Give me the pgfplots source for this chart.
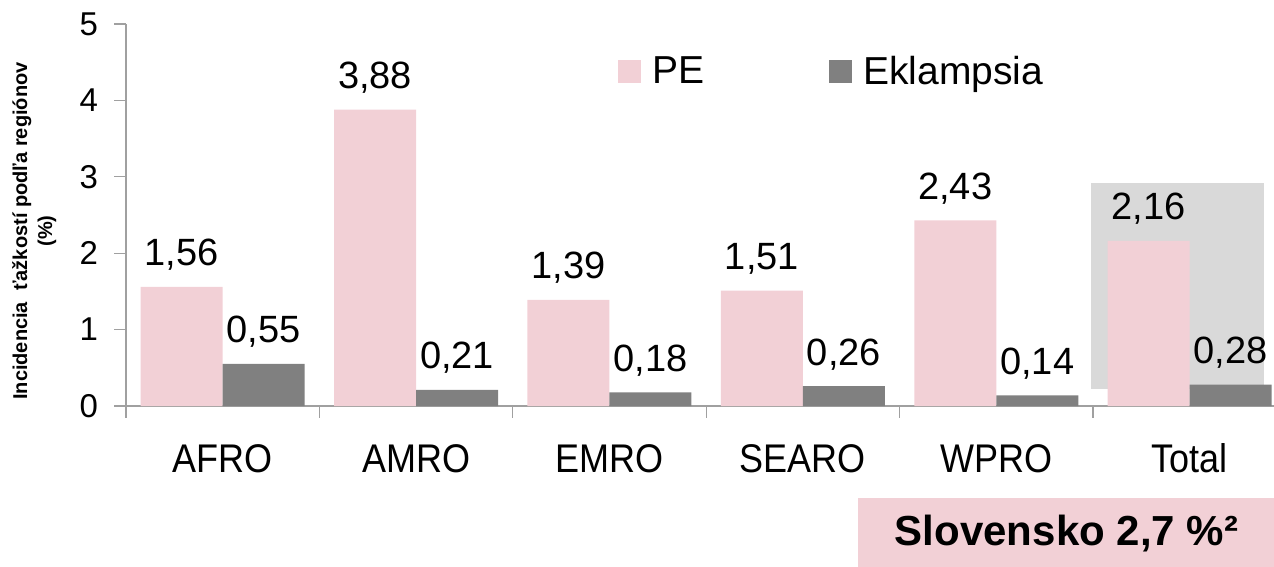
\documentclass[border=0pt]{standalone}
\usepackage{pgfplots}
\pgfplotsset{compat=1.18}
\usepackage{fontspec}
\setmainfont{Liberation Sans}
\newfontfamily\catfont[FakeStretch=0.9]{Liberation Sans}
\definecolor{pebar}{RGB}{242,208,214}
\definecolor{ekbar}{RGB}{128,128,128}
\definecolor{bggray}{RGB}{217,217,217}
\definecolor{axgray}{RGB}{160,160,160}
\begin{document}
\begin{tikzpicture}
\begin{axis}[
 scale only axis, width=1148pt, height=382pt,
 xmin=-0.5, xmax=5.436, ymin=0, ymax=5,
 axis lines*=left,
 axis line style={axgray, line width=1.3pt},
 tick style={axgray, line width=1.3pt},
 tick align=outside, major tick length=11.5pt,
 xtick={-0.5,0.5,1.5,2.5,3.5,4.5},
 xticklabels={AFRO,AMRO,EMRO,SEARO,WPRO,Total},
 xticklabel style={font=\catfont\fontsize{40}{48}\selectfont, text height=29pt, xshift=96.7pt, yshift=-22pt},
 ytick={0,1,2,3,4,5},
 yticklabels={0,1,2,3,4,5},
 yticklabel style={font=\fontsize{33}{40}\selectfont, xshift=-13pt},
 /pgf/number format/assume math mode=true,
 ylabel={Incidencia\ \ ťažkostí podľa regiónov\\(\%)},
 ylabel style={font=\bfseries\fontsize{20}{25}\selectfont, align=center, at={(axis description cs:-0.0800,0.458)}, anchor=center},
 ybar, bar width=0.424,
 nodes near coords={\pgfmathprintnumber[use comma,fixed,fixed zerofill,precision=2,assume math mode=true]{\pgfplotspointmeta}},
 nodes near coords style={font=\fontsize{38}{45}\selectfont, inner sep=0pt, yshift=16pt, black},
 legend style={at={(axis description cs:0.4286,0.916)}, anchor=north west, draw=none, fill=none, inner sep=0pt,
   font=\fontsize{39}{47}\selectfont, legend columns=2,
   /tikz/every even column/.append style={column sep=125pt},
   /tikz/every odd column/.append style={column sep=11pt},
   nodes={inner sep=0pt}},
 legend image code/.code={\fill[#1] (0pt,-12pt) rectangle (23pt,11pt);},
]
\fill[bggray] (axis cs:4.488,0.22) rectangle (axis cs:5.383,2.92);
\addplot[fill=pebar, draw=none, bar shift=-0.212] coordinates {(0,1.56) (1,3.88) (2,1.39) (3,1.51) (4,2.43) (5,2.16)};
\addplot[fill=ekbar, draw=none, bar shift=0.212] coordinates {(0,0.55) (1,0.21) (2,0.18) (3,0.26) (4,0.14) (5,0.28)};
\legend{PE,Eklampsia}
\end{axis}
\fill[pebar] (732pt,-92pt) rectangle (1160pt,-175pt);
\node[anchor=base, font=\bfseries\fontsize{42}{50}\selectfont, inner sep=0pt] at (940.5pt,-139pt) {Slovensko 2,7 \%²};
\pgfresetboundingbox
\useasboundingbox (-126pt,-160pt) rectangle (1148pt,406pt);
\end{tikzpicture}
\end{document}
